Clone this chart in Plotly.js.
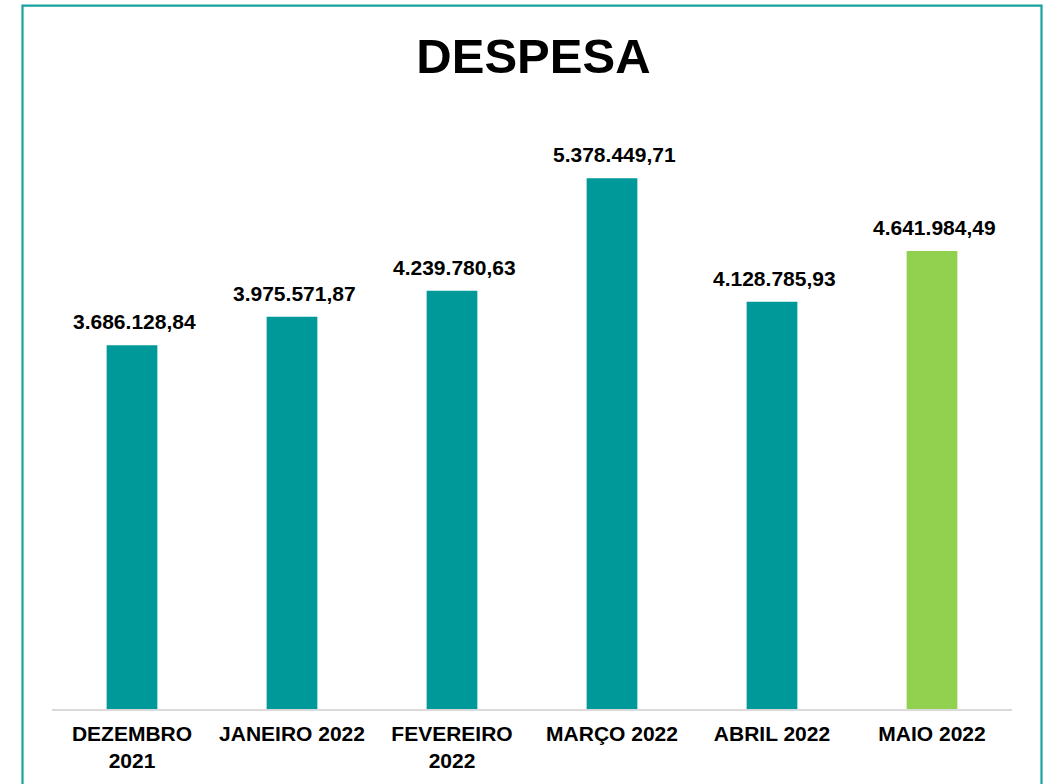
<!DOCTYPE html>
<html>
<head>
<meta charset="utf-8">
<script src="https://cdn.plot.ly/plotly-3.0.1.min.js"></script>
<style>
html,body{margin:0;padding:0;background:#fff;}
#chart{width:1046px;height:784px;}
</style>
</head>
<body>
<div id="chart"></div>
<script>
const categories = ["DEZEMBRO<br>2021", "JANEIRO 2022", "FEVEREIRO<br>2022", "MARÇO 2022", "ABRIL 2022", "MAIO 2022"];
const values = [3686128.84, 3975571.87, 4239780.63, 5378449.71, 4128785.93, 4641984.49];
const valueLabels = ["3.686.128,84", "3.975.571,87", "4.239.780,63", "5.378.449,71", "4.128.785,93", "4.641.984,49"];
const barColors = ["#009999", "#009999", "#009999", "#009999", "#009999", "#92D050"];

const FONT = "Liberation Sans, Arial, sans-serif";

const trace = {
  type: "bar",
  x: categories,
  y: values,
  marker: {color: barColors, line: {width: 0}},
  hoverinfo: "x+y"
};

const annotations = categories.map((c, i) => ({
  x: c, y: values[i], xref: "x", yref: "y",
  text: "<b>" + valueLabels[i] + "</b>",
  showarrow: false, yanchor: "bottom", xanchor: "center",
  yshift: 10, xshift: 2,
  font: {family: FONT, size: 21, color: "#000"}
}));

const layout = {
  width: 1046, height: 784,
  paper_bgcolor: "#ffffff", plot_bgcolor: "#ffffff",
  margin: {l: 52, r: 34, t: 117, b: 75},
  title: {
    text: "<b>DESPESA</b>",
    font: {family: FONT, size: 49, color: "#000"},
    x: 0.51, xanchor: "center",
    y: 1 - 56/784, yref: "container", yanchor: "middle"
  },
  bargap: 0.683,
  showlegend: false,
  xaxis: {
    showline: true, linecolor: "#d9d9d9", linewidth: 1.5,
    ticks: "", showgrid: false, zeroline: false,
    ticklabelstandoff: 5,
    tickfont: {family: FONT, size: 21, color: "#000", weight: "bold"},
    fixedrange: true
  },
  yaxis: {
    range: [0, 6000000], visible: false, showgrid: false, zeroline: false, fixedrange: true
  },
  annotations: annotations,
  shapes: [{
    type: "rect", xref: "paper", yref: "paper",
    x0: (22.5 - 52) / 960, x1: (1041.5 - 52) / 960,
    y0: (709 - 800) / 592, y1: (709 - 5.7) / 592,
    line: {color: "#17A2A0", width: 2.2}, fillcolor: "rgba(0,0,0,0)", layer: "above"
  }]
};

Plotly.newPlot("chart", [trace], layout, {displayModeBar: false, staticPlot: true});
</script>
</body>
</html>
